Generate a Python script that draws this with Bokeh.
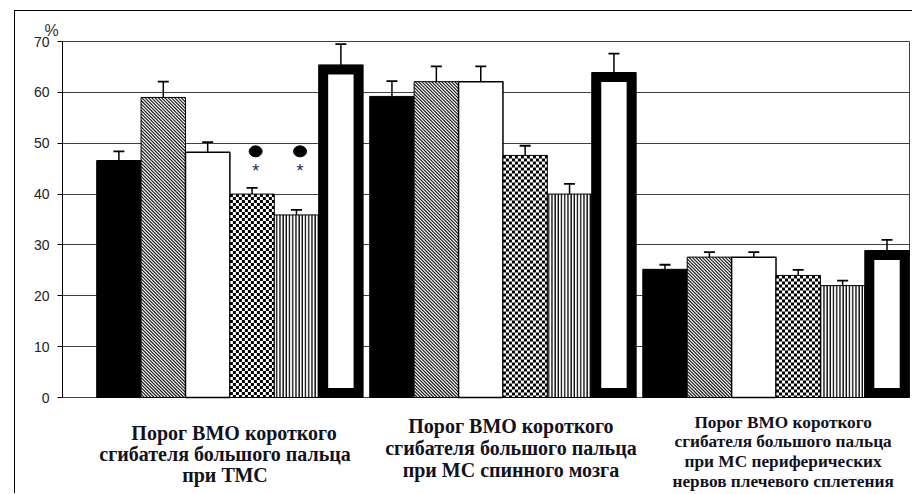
import numpy as np
from bokeh.plotting import figure
from bokeh.models import (ColumnDataSource, Whisker, TeeHead, FixedTicker, Range1d, Title)
from bokeh.core.properties import value
from bokeh.embed import file_html
from bokeh.resources import INLINE

# ---------------- data ----------------
group_labels = [
    ["Порог ВМО короткого", "сгибателя большого пальца", "при ТМС"],
    ["Порог ВМО короткого", "сгибателя большого пальца", "при МС спинного мозга"],
    ["Порог ВМО короткого", "сгибателя большого пальца", "при МС периферических",
     "нервов плечевого сплетения"],
]
s1_black = [46.6, 59.2, 25.2]
s2_hatched = [59.0, 62.1, 27.6]
s3_white = [48.2, 62.1, 27.6]
s4_checker = [40.0, 47.6, 24.0]
s5_stripes = [35.9, 40.0, 22.0]
s6_frame = [65.4, 63.9, 28.9]

e1_black = [1.8, 3.0, 0.9]
e2_hatched = [3.1, 3.0, 1.0]
e3_white = [2.0, 3.0, 1.0]
e4_checker = [1.2, 1.9, 1.1]
e5_stripes = [1.0, 2.0, 1.0]
e6_frame = [4.1, 3.7, 2.1]

y_ticks = [0, 10, 20, 30, 40, 50, 60, 70]
y_unit_label = "%"
sig_marks = [(0, 3), (0, 4)]      # (group, series) marked with ● and *
sig_dot_level = 48.4
sig_star_level = 44.6

series_values = [s1_black, s2_hatched, s3_white, s4_checker, s5_stripes, s6_frame]
series_errors = [e1_black, e2_hatched, e3_white, e4_checker, e5_stripes, e6_frame]

# ---------------- layout constants ----------------
GROUP_START = 0.77
GROUP_GAP = 0.15
Y_MAX = 70
xpx = 44.4                 # px per bar width
ypx = 356.0 / Y_MAX        # px per unit
X_LINE = 847 / xpx         # right border line of the plot box
X_END = 848 / xpx
Y_TOP = Y_MAX + 1 / ypx
Y_BOTTOM = -95 / ypx       # room for category captions inside frame
n_series = len(series_values)
n_groups = len(group_labels)


def xpos(g, j):
    return GROUP_START + g * (n_series + GROUP_GAP) + j + 0.5


p = figure(width=898, height=483, output_backend="svg", toolbar_location=None,
           x_range=Range1d(0, X_END), y_range=Range1d(Y_BOTTOM, Y_TOP),
           min_border_left=47, min_border_right=3, min_border_top=29, min_border_bottom=2,
           margin=(10, 0, 0, 14),
           styles={"border-left": "1px solid black", "border-top": "1px solid black"})
p.background_fill_color = "white"
p.border_fill_color = "white"
p.outline_line_color = None
p.xgrid.visible = False
p.xaxis.visible = False
p.ygrid.ticker = FixedTicker(ticks=y_ticks)
p.ygrid.grid_line_color = "#404040"
p.ygrid.grid_line_width = 1
p.ygrid.cross_bounds = (0, X_LINE)
p.yaxis.ticker = FixedTicker(ticks=y_ticks)
p.yaxis.bounds = (0, Y_MAX)
p.yaxis.axis_line_color = "black"
p.yaxis.major_tick_line_color = "black"
p.yaxis.major_tick_out = 5
p.yaxis.major_tick_in = 0
p.yaxis.minor_tick_line_color = None
p.yaxis.major_label_text_font = "Liberation Sans"
p.yaxis.major_label_text_font_size = "14px"
p.yaxis.major_label_text_color = "#222222"
p.yaxis.major_label_standoff = 8

# right border line of the plot box
p.segment(x0=[X_LINE], y0=[0], x1=[X_LINE], y1=[Y_MAX], line_color="#404040", line_width=1)

for j in range(n_series):
    xs = [xpos(g, j) for g in range(n_groups)]
    vals = series_values[j]
    src = ColumnDataSource(dict(x=xs, top=vals))
    if j == 0:
        p.vbar(x="x", top="top", bottom=0, width=1, source=src,
               fill_color="black", line_color="black", line_width=1)
    elif j == 1:
        p.vbar(x="x", top="top", bottom=0, width=1, source=src,
               fill_color="white", line_color=None)
        # "\" diagonal hatching built from the bar extents
        sp = 3.3
        X0, Y0, X1, Y1 = [], [], [], []
        for xc, v in zip(xs, vals):
            W, H = xpx, v * ypx
            for c in np.arange(-H, W, sp):
                xa, xb = max(0.0, c), min(W, c + H)
                if xb <= xa:
                    continue
                X0.append(xc - 0.5 + xa / xpx); Y0.append(v - (xa - c) / ypx)
                X1.append(xc - 0.5 + xb / xpx); Y1.append(v - (xb - c) / ypx)
        p.segment(x0=X0, y0=Y0, x1=X1, y1=Y1, line_color="#1a1a1a", line_width=1.2)
        p.vbar(x="x", top="top", bottom=0, width=1, source=src,
               fill_color=None, line_color="black", line_width=1)
    elif j == 2:
        p.vbar(x="x", top="top", bottom=0, width=1, source=src,
               fill_color="white", line_color="black", line_width=1.5)
    elif j == 3:
        p.vbar(x="x", top="top", bottom=0, width=1, source=src,
               fill_color="white", line_color=None)
        # checkerboard fill built from the bar extents
        cs_x, cs_y = 3.0 / xpx, 3.0 / ypx
        L, R, B, T = [], [], [], []
        for xc, v in zip(xs, vals):
            ncol = int(np.ceil(1 / cs_x))
            nrow = int(np.ceil(v / cs_y))
            kk, rr = np.meshgrid(np.arange(ncol), np.arange(nrow))
            m = ((kk + rr) % 2 == 0)
            kk, rr = kk[m], rr[m]
            left = xc - 0.5 + kk * cs_x
            right = np.minimum(left + cs_x, xc + 0.5)
            bot = np.maximum(v - (rr + 1) * cs_y, 0)
            top = v - rr * cs_y
            keep = top > 0
            L += list(left[keep]); R += list(right[keep]); B += list(bot[keep]); T += list(top[keep])
        p.quad(left=L, right=R, bottom=B, top=T, fill_color="black", line_color=None)
        p.vbar(x="x", top="top", bottom=0, width=1, source=src,
               fill_color=None, line_color="black", line_width=1)
    elif j == 4:
        p.vbar(x="x", top="top", bottom=0, width=1, source=src,
               fill_color="white", line_color="black", line_width=1,
               hatch_pattern="vertical_line", hatch_color="black", hatch_scale=3.2, hatch_weight=1.4)
    else:
        # thick framed bar: black bar with white inset
        p.vbar(x="x", top="top", bottom=0, width=1, source=src,
               fill_color="black", line_color="black", line_width=1)
        inset_x = 9.5 / xpx
        inset_y = 9.5 / ypx
        src_in = ColumnDataSource(dict(x=xs, top=[v - inset_y for v in vals]))
        p.vbar(x="x", top="top", bottom=inset_y, width=1 - 2 * inset_x, source=src_in,
               fill_color="white", line_color=None)

# error bars
wx, wu, wl = [], [], []
for j in range(n_series):
    for g in range(n_groups):
        wx.append(xpos(g, j))
        wu.append(series_values[j][g] + series_errors[j][g])
        wl.append(series_values[j][g] - series_errors[j][g])
wsrc = ColumnDataSource(dict(x=wx, upper=wu, lower=wl))
p.add_layout(Whisker(base="x", upper="upper", lower="lower", source=wsrc,
                     line_color="black", line_width=1.5,
                     upper_head=TeeHead(size=11, line_color="black", line_width=1.8),
                     lower_head=TeeHead(size=11, line_color="black", line_width=1.8)))

# significance markers
mx = [xpos(g, j) + 0.08 for g, j in sig_marks]
p.ellipse(x=mx, y=[sig_dot_level] * len(mx), width=13, height=11,
          width_units="screen", height_units="screen", fill_color="black", line_color="black")
p.text(x=mx, y=[sig_star_level] * len(mx), text=["*"] * len(mx),
       text_font=value("Liberation Sans"), text_font_size="18px",
       text_align="center", text_baseline="middle", text_color="#2a2a55")

# unit label above the axis
p.add_layout(Title(text=y_unit_label, align="left", offset=-18, standoff=0,
                   vertical_align="top", text_font="Liberation Sans",
                   text_font_size="16px", text_font_style="normal", text_color="#333333"), "above")

# category captions (inside the extended frame, below zero)
label_font_px = [20, 20, 17.3]
label_first_baseline = [35, 28, 24.5]
label_line_step = [21, 22, 19.7]
label_x_shift = [-0.11, 0.18, 0.16]
tx, ty, tt, tf = [], [], [], []
for g, lines in enumerate(group_labels):
    cx = xpos(g, 2.5) + label_x_shift[g]
    for k, line in enumerate(lines):
        dx = 9 / xpx if (g == 0 and k == 0) else 0
        base_px = label_first_baseline[g] + k * label_line_step[g]
        tx.append(cx + dx); ty.append(-base_px / ypx); tt.append(line)
        tf.append(f"{label_font_px[g]}px")
csrc = ColumnDataSource(dict(x=tx, y=ty, text=tt, size=tf))
p.text(x="x", y="y", text="text", source=csrc, text_font_size="size",
       text_font=value("Liberation Serif"), text_font_style="bold", text_color="#111122",
       text_align="center", text_baseline="alphabetic")

open("out.html", "w").write(file_html(p, INLINE))
